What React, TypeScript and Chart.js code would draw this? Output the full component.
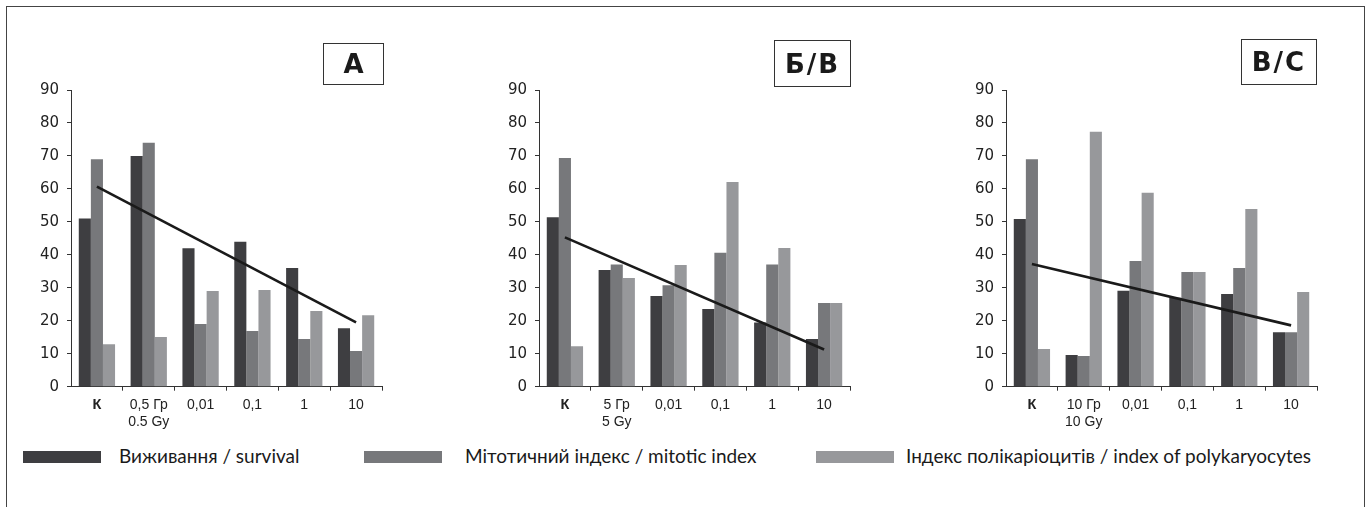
import React, { useEffect, useRef } from "react";
import { Chart, registerables } from "chart.js";

Chart.register(...registerables);

// ---- data ----
const categoriesA: (string | string[])[] = ["К", ["0,5 Гр", "0.5 Gy"], "0,01", "0,1", "1", "10"];
const categoriesB: (string | string[])[] = ["К", ["5 Гр", "5 Gy"], "0,01", "0,1", "1", "10"];
const categoriesC: (string | string[])[] = ["К", ["10 Гр", "10 Gy"], "0,01", "0,1", "1", "10"];

const survivalA = [51, 70, 42, 44, 36, 17.7];
const mitoticA = [69, 74, 19, 16.9, 14.5, 10.8];
const polyA = [12.9, 15.1, 29, 29.3, 23, 21.7];
const trendA = [60.7, null, null, null, null, 19.5];

const survivalB = [51.4, 35.4, 27.5, 23.6, 19.5, 14.5];
const mitoticB = [69.4, 37.1, 30.8, 40.6, 37.1, 25.4];
const polyB = [12.3, 33, 36.9, 62.1, 42.1, 25.4];
const trendB = [45.3, null, null, null, null, 11.3];

const survivalC = [50.9, 9.6, 29.1, 27, 28.1, 16.5];
const mitoticC = [69, 9.3, 38.1, 34.8, 36, 16.5];
const polyC = [11.4, 77.3, 58.8, 34.8, 53.9, 28.7];
const trendC = [37.2, null, null, null, null, 18.6];

const yMin = 0;
const yMax = 90;
const yStep = 10;

const seriesNames = [
  "Виживання / survival",
  "Мітотичний індекс / mitotic index",
  "Індекс полікаріоцитів / index of polykaryocytes",
];
const seriesColors = ["#3e3e41", "#77787b", "#97989b"];

// ---- layout ----
const CANVAS_TOP = 70;
const CANVAS_H = 360;
const PAD_TOP = 20;
const AXIS_BOTTOM = 386.7;
const Y_AXIS_W = 60;
const PLOT_W = 311;

type PanelProps = {
  axisLeft: number;
  labels: (string | string[])[];
  survival: number[];
  mitotic: number[];
  poly: number[];
  trend: (number | null)[];
};

function Panel({ axisLeft, labels, survival, mitotic, poly, trend }: PanelProps) {
  const ref = useRef<HTMLCanvasElement | null>(null);
  const canvasLeft = axisLeft - Y_AXIS_W;
  const canvasW = Y_AXIS_W + PLOT_W + 10;

  useEffect(() => {
    if (!ref.current) return;
    const chart = new Chart(ref.current, {
      type: "bar",
      data: {
        labels,
        datasets: [
          {
            type: "line",
            label: "trend",
            data: trend,
            borderColor: "#1a1a1a",
            borderWidth: 2.6,
            pointRadius: 0,
            spanGaps: true,
            fill: false,
            order: 0,
          } as any,
          {
            label: seriesNames[0],
            data: survival,
            backgroundColor: seriesColors[0],
            borderWidth: 0,
            order: 1,
          },
          {
            label: seriesNames[1],
            data: mitotic,
            backgroundColor: seriesColors[1],
            borderWidth: 0,
            order: 1,
          },
          {
            label: seriesNames[2],
            data: poly,
            backgroundColor: seriesColors[2],
            borderWidth: 0,
            order: 1,
          },
        ],
      },
      options: {
        responsive: false,
        animation: false,
        devicePixelRatio: 1,
        layout: { padding: { top: PAD_TOP, right: 10, left: 0, bottom: 0 } },
        datasets: {
          bar: { barPercentage: 1, categoryPercentage: 0.7 },
        },
        plugins: {
          legend: { display: false },
          tooltip: { enabled: false },
          title: { display: false },
        },
        scales: {
          x: {
            offset: true,
            afterFit: (s: any) => {
              s.height = CANVAS_TOP + CANVAS_H - AXIS_BOTTOM;
            },
            grid: {
              offset: true,
              drawOnChartArea: false,
              drawTicks: true,
              tickLength: 4,
              color: (ctx: any) =>
                ctx.index === 0 || ctx.index >= labels.length ? "rgba(0,0,0,0)" : "#333",
            },
            border: { display: true, color: "#333", width: 1 },
            ticks: {
              autoSkip: false,
              maxRotation: 0,
              padding: 6,
              color: "#222",
              font: (ctx: any) => ({
                family: "'Liberation Sans', Arial, sans-serif",
                size: ctx.index === 0 ? 14.5 : 14,
                weight: ctx.index === 0 ? "bold" : "normal",
                lineHeight: 1.2,
              }),
            },
          },
          y: {
            min: yMin,
            max: yMax,
            afterFit: (s: any) => {
              s.width = Y_AXIS_W;
            },
            grid: {
              drawOnChartArea: false,
              drawTicks: true,
              tickLength: 4,
              color: "#333",
            },
            border: { display: true, color: "#333", width: 1 },
            ticks: {
              stepSize: yStep,
              padding: 8,
              color: "#222",
              font: { family: "'DejaVu Sans', sans-serif", size: 15 },
            },
          },
        },
      },
    });
    return () => chart.destroy();
  }, []);

  return (
    <canvas
      ref={ref}
      width={canvasW}
      height={CANVAS_H}
      style={{
        position: "absolute",
        left: canvasLeft,
        top: CANVAS_TOP,
        width: canvasW,
        height: CANVAS_H,
        display: "block",
      }}
    />
  );
}

function TitleBox({ text, left, top, w, h }: { text: string; left: number; top: number; w: number; h: number }) {
  return (
    <div
      style={{
        position: "absolute",
        left,
        top,
        width: w,
        height: h,
        boxSizing: "border-box",
        border: "1.5px solid #333",
        display: "flex",
        alignItems: "center",
        justifyContent: "center",
        fontFamily: "'DejaVu Sans', sans-serif",
        fontWeight: "bold",
        fontSize: 26,
        letterSpacing: text.length > 1 ? 2 : 0,
        color: "#1a1a1a",
        lineHeight: 1,
      }}
    >
      {text}
    </div>
  );
}

const legendBoxX = [23, 364, 816];
const legendTextX = [119, 465, 906];

export default function App() {
  return (
    <div
      style={{
        position: "fixed",
        left: 0,
        top: 0,
        width: 1369,
        height: 507,
        background: "#fff",
        overflow: "hidden",
      }}
    >
      <div
        style={{
          position: "absolute",
          left: 6,
          top: 6,
          width: 1359,
          height: 520,
          boxSizing: "border-box",
          border: "1.5px solid #444",
        }}
      />
      <Panel axisLeft={71} labels={categoriesA} survival={survivalA} mitotic={mitoticA} poly={polyA} trend={trendA} />
      <Panel axisLeft={539} labels={categoriesB} survival={survivalB} mitotic={mitoticB} poly={polyB} trend={trendB} />
      <Panel axisLeft={1006} labels={categoriesC} survival={survivalC} mitotic={mitoticC} poly={polyC} trend={trendC} />
      <TitleBox text="А" left={323} top={43} w={61} h={42} />
      <TitleBox text="Б/В" left={774} top={40} w={77} h={47} />
      <TitleBox text="В/С" left={1241} top={39} w={76} h={46} />
      {seriesNames.map((name, i) => (
        <React.Fragment key={name}>
          <div
            style={{
              position: "absolute",
              left: legendBoxX[i],
              top: 451,
              width: 78,
              height: 12,
              background: seriesColors[i],
            }}
          />
          <div
            style={{
              position: "absolute",
              left: legendTextX[i],
              top: 445,
              height: 22,
              lineHeight: "22px",
              fontFamily: "Lato, 'Open Sans', sans-serif",
              fontSize: 19,
              color: "#1a1a1a",
              whiteSpace: "nowrap",
            }}
          >
            {name}
          </div>
        </React.Fragment>
      ))}
    </div>
  );
}
